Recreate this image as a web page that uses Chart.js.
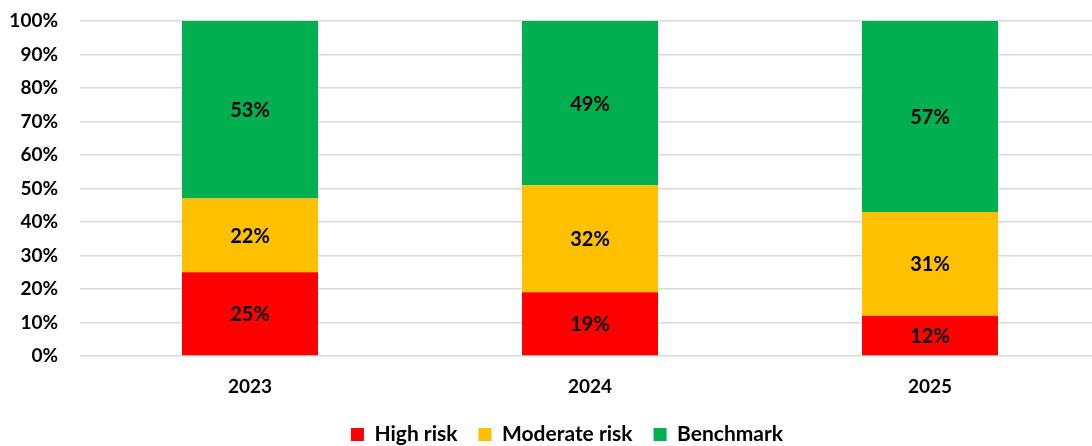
<!DOCTYPE html>
<html>
<head>
<meta charset="utf-8">
<script src="https://cdn.jsdelivr.net/npm/chart.js@4/dist/chart.umd.min.js"></script>
<style>
  html, body { margin: 0; padding: 0; background: #ffffff; overflow: hidden; }
  body { width: 1092px; height: 446px; }
  #wrap { width: 1100px; height: 455px; }
</style>
</head>
<body>
<div id="wrap"><canvas id="chart" width="1100" height="455"></canvas></div>
<script>
// Share of cases per risk group, by year (percent)
const years = ['2023', '2024', '2025'];
const highRisk = [25, 19, 12];
const moderateRisk = [22, 32, 31];
const benchmark = [53, 49, 57];
const seriesNames = ['High risk', 'Moderate risk', 'Benchmark'];
const seriesColors = ['#FF0000', '#FFC000', '#00B050'];

const FONT = 'Lato, "Open Sans", sans-serif';

// Writes each segment's value in the middle of its bar segment
const segmentLabels = {
  id: 'segmentLabels',
  afterDatasetsDraw(chart) {
    const ctx = chart.ctx;
    ctx.save();
    ctx.font = 'bold 20px ' + FONT;
    ctx.fillStyle = '#000000';
    ctx.textAlign = 'center';
    ctx.textBaseline = 'middle';
    chart.data.datasets.forEach((ds, i) => {
      const meta = chart.getDatasetMeta(i);
      meta.data.forEach((bar, j) => {
        const c = bar.getCenterPoint();
        ctx.fillText(ds.data[j] + '%', c.x, c.y + 1);
      });
    });
    ctx.restore();
  }
};

// Nudges the legend row a little to the right of the canvas centre
const legendShift = {
  id: 'legendShift',
  afterLayout(chart) {
    if (chart.legend) {
      chart.legend.left += 17;
      chart.legend.right += 17;
    }
  }
};

new Chart(document.getElementById('chart'), {
  type: 'bar',
  data: {
    labels: years,
    datasets: [
      { label: seriesNames[0], data: highRisk, backgroundColor: seriesColors[0] },
      { label: seriesNames[1], data: moderateRisk, backgroundColor: seriesColors[1] },
      { label: seriesNames[2], data: benchmark, backgroundColor: seriesColors[2] }
    ]
  },
  options: {
    responsive: false,
    animation: false,
    devicePixelRatio: 1,
    layout: { padding: { top: 21, left: 0, right: 0, bottom: 0 } },
    datasets: { bar: { categoryPercentage: 1.0, barPercentage: 0.4, borderWidth: 0 } },
    plugins: {
      legend: {
        position: 'bottom',
        labels: {
          boxWidth: 13,
          boxHeight: 13,
          padding: 21,
          color: '#000000',
          font: { family: FONT, size: 21, weight: 'bold' }
        }
      },
      tooltip: { enabled: false }
    },
    scales: {
      x: {
        stacked: true,
        grid: { display: false, drawTicks: false },
        border: { display: false },
        ticks: {
          padding: 19,
          color: '#000000',
          font: { family: FONT, size: 19, weight: 'bold' }
        },
        afterFit(scale) { scale.height = 47; }
      },
      y: {
        stacked: true,
        min: 0,
        max: 100,
        grid: { color: '#d9d9d9', lineWidth: 1.5, drawTicks: false },
        border: { display: false },
        ticks: {
          stepSize: 10,
          padding: 22,
          color: '#000000',
          font: { family: FONT, size: 19, weight: 'bold' },
          callback: (v) => v + '%'
        },
        afterFit(scale) {
          scale.width = 80;
          scale.paddingTop = 0;
          scale.paddingBottom = 0;
        }
      }
    }
  },
  plugins: [segmentLabels, legendShift]
});
</script>
</body>
</html>
